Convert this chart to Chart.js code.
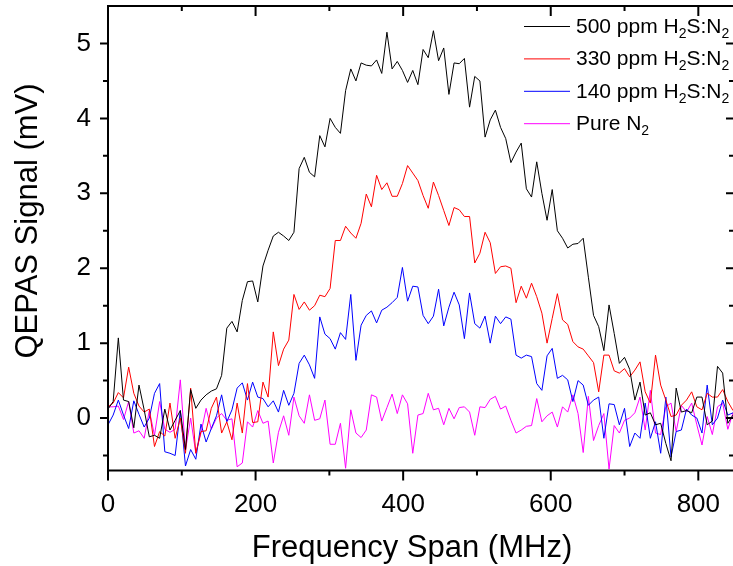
<!DOCTYPE html>
<html>
<head>
<meta charset="utf-8">
<script src="https://cdn.jsdelivr.net/npm/chart.js@4.4.1/dist/chart.umd.min.js"></script>
<style>
  html, body { margin: 0; padding: 0; background: #fff; overflow: hidden; }
  #wrap { position: relative; width: 733px; height: 566px; }
</style>
</head>
<body>
<div id="wrap"><canvas id="qepas"></canvas></div>
<script>
// ── Data ─────────────────────────────────────────────────
const freq = [0,7,14,21,28,35,42,49,56,63,70,77,84,91,98,105,112,119,126,133,
  140,147,154,161,168,175,182,189,196,203,210,217,224,231,238,245,252,259,266,273,
  280,287,294,301,308,315,322,329,336,343,350,357,364,371,378,385,392,399,406,413,
  420,427,434,441,448,455,462,469,476,483,490,497,504,511,518,525,532,539,546,553,
  560,567,574,581,588,595,602,609,616,623,630,637,644,651,658,665,672,679,686,693,
  700,707,714,721,728,735,742,749,756,763,770,777,784,791,798,805,812,819,826,833,
  840,847];

const s500 = [0.12,0.22,1.07,0.24,0.22,-0.13,0.44,0.11,-0.25,-0.23,
  -0.27,0.12,-0.16,-0.03,0.1,-0.42,0.38,0.13,0.24,0.31,
  0.36,0.39,0.57,1.2,1.29,1.15,1.57,1.82,1.83,1.55,
  2.03,2.24,2.43,2.48,2.43,2.37,2.48,3.33,3.48,3.28,
  3.22,3.77,3.62,4.0,3.88,3.8,4.37,4.66,4.5,4.74,
  4.71,4.7,4.78,4.6,5.15,4.66,4.76,4.64,4.48,4.64,
  4.45,4.92,4.81,5.17,4.77,4.94,4.32,4.74,4.73,4.8,
  4.15,4.56,4.5,3.75,3.98,4.11,3.88,3.73,3.41,3.55,
  3.67,3.06,2.95,3.42,3.0,2.64,3.05,2.5,2.4,2.27,
  2.32,2.33,2.4,1.88,1.37,1.22,0.9,1.51,1.13,0.73,
  0.81,0.65,0.24,0.48,0.04,0.07,-0.09,-0.07,-0.34,-0.57,
  0.4,0.08,0.1,0.07,0.28,0.28,-0.09,-0.04,0.69,0.6,
  -0.07,0.04];

const s330 = [0.15,0.2,0.34,0.27,0.68,0.33,0.16,0.08,0.12,-0.38,
  -0.18,-0.24,0.2,-0.27,0.0,-0.47,0.4,-0.47,-0.18,-0.17,
  0.13,0.28,-0.2,-0.05,-0.29,0.2,-0.2,0.46,-0.06,-0.05,
  0.48,0.28,1.15,0.7,0.92,1.04,1.65,1.45,1.55,1.44,
  1.5,1.64,1.62,1.73,2.37,2.37,2.56,2.47,2.4,2.6,
  2.99,2.82,3.24,3.05,3.14,2.96,2.96,3.13,3.37,3.27,
  3.17,2.97,2.8,3.15,2.97,2.77,2.57,2.81,2.78,2.69,
  2.69,2.07,2.2,2.48,2.34,1.93,2.02,2.03,2.0,1.54,
  1.76,1.6,1.8,1.62,1.4,1.0,1.33,1.66,1.31,1.25,
  1.02,0.95,0.92,0.83,0.74,0.35,0.84,0.84,0.63,0.6,
  0.66,0.55,0.64,0.75,0.35,0.2,0.84,0.44,0.24,0.02,
  0.04,0.17,0.24,0.35,0.15,0.11,0.33,0.28,0.28,0.38,
  0.22,0.1];

const s140 = [-0.09,0.04,0.24,0.04,-0.14,0.23,0.05,-0.12,0.0,0.33,
  0.46,-0.45,-0.47,-0.5,0.1,-0.64,-0.42,-0.55,-0.08,-0.32,
  -0.14,0.03,0.31,-0.05,0.11,0.4,0.47,0.24,0.48,0.28,
  0.26,0.15,0.23,0.08,0.37,0.17,0.33,0.73,0.84,0.71,
  0.53,1.35,1.12,1.06,0.92,1.14,1.05,1.65,0.77,1.24,
  1.37,1.43,1.27,1.44,1.48,1.54,1.61,2.01,1.56,1.76,
  1.75,1.37,1.26,1.36,1.72,1.23,1.48,1.68,1.51,1.06,
  1.67,1.26,1.2,1.36,1.0,1.36,1.26,1.35,1.32,0.84,
  0.8,0.84,0.82,0.46,0.37,0.83,0.93,0.53,0.57,0.51,
  0.22,0.5,0.44,0.17,0.24,0.28,-0.27,0.19,0.18,-0.09,
  0.13,-0.38,-0.2,-0.27,0.2,-0.27,-0.05,-0.47,0.28,-0.52,
  -0.18,-0.16,0.12,0.04,0.0,-0.2,0.44,-0.09,0.0,0.24,
  0.04,0.07];

const sN2 = [0.15,0.15,0.16,-0.02,0.22,-0.2,-0.17,-0.27,0.1,-0.23,
  0.22,-0.15,-0.19,-0.15,0.51,-0.43,0.0,-0.47,-0.2,0.13,
  -0.15,0.0,0.06,-0.03,-0.01,-0.65,-0.6,-0.05,-0.12,0.1,
  -0.07,-0.04,-0.6,-0.19,0.03,-0.23,0.28,0.03,-0.07,0.31,
  -0.03,-0.01,0.24,-0.35,-0.35,-0.07,-0.67,0.11,-0.2,-0.26,
  -0.16,0.31,0.28,-0.04,0.14,0.32,0.06,0.31,0.19,-0.47,
  0.04,0.06,0.33,0.11,0.13,-0.09,0.13,-0.01,0.14,0.15,
  0.08,-0.23,0.15,0.14,0.25,0.29,0.12,0.16,-0.03,-0.2,
  -0.16,-0.11,-0.1,0.26,-0.05,0.03,0.08,-0.12,0.15,0.08,
  0.31,0.06,-0.46,0.29,-0.3,-0.1,0.06,-0.68,-0.1,-0.2,
  -0.03,0.0,0.07,0.28,-0.16,0.37,-0.2,-0.22,0.15,0.2,
  -0.18,0.17,0.08,0.2,-0.09,-0.36,0.02,-0.22,0.15,0.2,
  -0.15,0.07];

const seriesLabels = ['500 ppm H₂S:N₂', '330 ppm H₂S:N₂', '140 ppm H₂S:N₂', 'Pure N₂'];
const seriesColors = ['#000000', '#ff0000', '#0000ff', '#ff00ff'];

const xTicks = [0, 200, 400, 600, 800];
const xMinor = [100, 300, 500, 700];
const yTicks = [0, 1, 2, 3, 4, 5];
const yMinor = [-0.5, 0.5, 1.5, 2.5, 3.5, 4.5];

const xTitle = 'Frequency Span (MHz)';
const yTitle = 'QEPAS Signal (mV)';

const FONT = '"Liberation Sans", Arial, Helvetica, sans-serif';

// ── Frame + Origin-style tick marks ──────────────────────
const frame = {
  id: 'frame',
  afterDatasetsDraw(chart) {
    const { ctx, chartArea: a, scales: { x, y } } = chart;
    ctx.save();
    ctx.strokeStyle = '#000';
    ctx.lineWidth = 2;
    ctx.beginPath();
    ctx.moveTo(a.left, a.top - 1); ctx.lineTo(a.left, a.bottom + 1);
    ctx.moveTo(a.left - 1, a.bottom); ctx.lineTo(a.right + 2, a.bottom);
    ctx.moveTo(a.left - 1, a.top); ctx.lineTo(a.right + 2, a.top);
    const xt = (v, len) => {
      const p = x.getPixelForValue(v);
      ctx.moveTo(p, a.bottom); ctx.lineTo(p, a.bottom + len);
      ctx.moveTo(p, a.top); ctx.lineTo(p, a.top + len);
    };
    const yt = (v, len, rlen) => {
      const p = y.getPixelForValue(v);
      ctx.moveTo(a.left, p); ctx.lineTo(a.left - len, p);
      ctx.moveTo(a.right + 1, p); ctx.lineTo(a.right + 1 - rlen, p);
    };
    xTicks.forEach(v => xt(v, 10));
    xMinor.forEach(v => xt(v, 5));
    yTicks.forEach(v => yt(v, 8, 8));
    yMinor.forEach(v => yt(v, 5, 5));
    ctx.stroke();

    // axis titles (the original sits a bit off the plot centre)
    ctx.fillStyle = '#000';
    ctx.font = '31px ' + FONT;
    ctx.textAlign = 'center';
    ctx.textBaseline = 'middle';
    ctx.fillText(xTitle, 412, 548);
    ctx.translate(28, 221);
    ctx.rotate(-Math.PI / 2);
    ctx.fillText(yTitle, 0, 0);
    ctx.restore();
  }
};

// ── Legend with real subscripts ──────────────────────────
const subLegend = {
  id: 'subLegend',
  afterDraw(chart) {
    const { ctx } = chart;
    const x0 = 524, x1 = 570, tx = 576, top = 26, gap = 32.4;
    ctx.save();
    chart.data.datasets.forEach((ds, i) => {
      const yy = top + i * gap;
      ctx.strokeStyle = ds.borderColor;
      ctx.lineWidth = 1;
      ctx.beginPath(); ctx.moveTo(x0, yy + 0.5); ctx.lineTo(x1, yy + 0.5); ctx.stroke();
      ctx.fillStyle = '#000';
      ctx.textBaseline = 'middle';
      let cx = tx;
      for (const ch of ds.label) {
        const sub = ch === '₂';
        ctx.font = (sub ? '14px ' : '21px ') + FONT;
        const t = sub ? '2' : ch;
        ctx.fillText(t, cx, yy + 1 + (sub ? 7 : 0));
        cx += ctx.measureText(t).width;
      }
    });
    ctx.restore();
  }
};

const sets = [s500, s330, s140, sN2];

new Chart(document.getElementById('qepas'), {
  type: 'line',
  data: {
    datasets: sets.map((s, i) => ({
      label: seriesLabels[i],
      data: freq.map((f, k) => ({ x: f, y: s[k] })),
      borderColor: seriesColors[i],
      borderWidth: 1,
      pointRadius: 0,
      tension: 0,
      fill: false
    }))
  },
  options: {
    responsive: true, maintainAspectRatio: false, animation: false,
    layout: { padding: { top: 6, right: 0, bottom: 0, left: 0 } },
    plugins: { legend: { display: false }, tooltip: { enabled: false } },
    scales: {
      x: {
        type: 'linear', min: 0, max: 847,
        grid: { display: false, drawTicks: false },
        border: { display: false },
        afterBuildTicks: s => { s.ticks = xTicks.map(v => ({ value: v })); },
        afterFit: s => { s.height = 95.5; s.paddingLeft = 0; s.paddingRight = 0; },
        ticks: { color: '#000', font: { family: FONT, size: 26 }, padding: 19, autoSkip: false, maxRotation: 0 }
      },
      y: {
        min: -0.7, max: 5.5,
        grid: { display: false, drawTicks: false },
        border: { display: false },
        afterBuildTicks: s => { s.ticks = yTicks.map(v => ({ value: v })); },
        afterFit: s => { s.width = 108; s.paddingTop = 0; s.paddingBottom = 0; },
        ticks: { color: '#000', font: { family: FONT, size: 26 }, padding: 17 }
      }
    }
  },
  plugins: [frame, subLegend]
});
</script>
</body>
</html>
